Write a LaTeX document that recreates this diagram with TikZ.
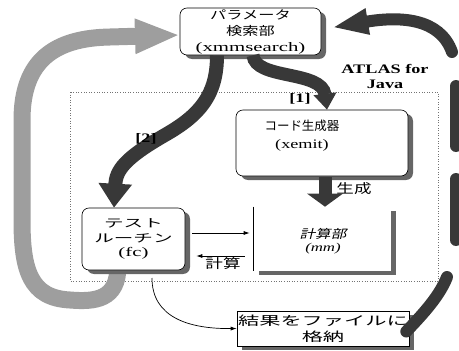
\documentclass[tikz,border=0pt]{standalone}
\usepackage{fontspec}
\setmainfont{Liberation Serif}
\newfontfamily\latw[FakeStretch=1.6]{Liberation Serif}
\newfontfamily\lat[FakeStretch=1.4]{Liberation Serif}
\newfontfamily\jp[FakeStretch=1.35]{Noto Sans CJK JP}
\newfontfamily\jpw[FakeStretch=1.7]{Noto Sans CJK JP}
\newfontfamily\jpn{Noto Sans CJK JP}
\newfontfamily\jpi[FakeStretch=1.3,FakeSlant=0.25]{Noto Sans CJK JP}
\usetikzlibrary{arrows.meta,shadows}
\definecolor{darkarrow}{gray}{0.22}
\definecolor{lightarrow}{gray}{0.62}
\definecolor{shadowgray}{gray}{0.40}
\begin{document}
\begin{tikzpicture}[x=1pt,y=-1pt,
  box/.style={draw=black, line width=0.6pt, fill=white, inner sep=0pt, align=center,
    drop shadow={shadow xshift=5pt, shadow yshift=-4pt, fill=shadowgray, opacity=1}},
  rbox/.style={box, rounded corners=7pt},
  txt/.style={inner sep=0pt, align=center},
  darkthick/.style={draw=darkarrow, line width=#1},
  thin/.style={draw=black, line width=0.7pt, -{Latex[length=6pt,width=4pt]}},
  frame/.style={draw=black!55, line width=0.6pt, dotted}
]
\useasboundingbox (0,0) rectangle (459,351);
\clip (0,0) rectangle (459,351);

% dotted frame
\draw[frame] (70,92) rectangle (438,281);

% light gray feedback arrow (drawn beneath the boxes)
\coordinate (gstart) at (118,266);
\draw[draw=lightarrow, line width=17pt, -{Triangle[length=45pt,width=32pt]}]
  (gstart) .. controls (118,300) and (95,302) .. (70,300)
  .. controls (30,298) and (22,270) .. (22,220) -- (22,120)
  .. controls (22,60) and (55,38) .. (110,37) -- (180,35);

% boxes
\node[rbox, minimum width=141pt, minimum height=47pt, font=\fontsize{12}{16}\selectfont] (search) at (250.5,31.5)
  {{\jp パラメータ}\\{\jp 検索部}\\{\latw\fontsize{13}{16}\selectfont (xmmsearch)}};
\node[rbox, minimum width=172pt, minimum height=66pt] (code) at (322,143) {};
\node[txt, font=\fontsize{12.5}{18}\selectfont] (codet) at (302,136)
  {{\jpn コード生成器}\\{\lat\fontsize{13}{18}\selectfont (xemit)}};
\node[box, draw=none, minimum width=137pt, minimum height=64pt] (mm) at (322.5,239) {};
\draw[line width=0.6pt] (mm.north west) -- (mm.south west);
\node[txt, font=\fontsize{12}{13.5}\selectfont] (mmt) at (323,241)
  {{\jpi 計算部}\\{\lat\itshape\fontsize{12}{13.5}\selectfont (mm)}};
\node[rbox, minimum width=103pt, minimum height=62pt, font=\fontsize{11.5}{14.5}\selectfont] (test) at (133.5,239)
  {{\jpw テスト}\\{\jpw ルーチン}\\{\latw\fontsize{13}{15}\selectfont (fc)}};
\node[box, minimum width=172pt, minimum height=35pt, font=\fontsize{12.5}{16}\selectfont] (store) at (323,328.5)
  {{\jpw 結果をファイルに}\\{\jpw 格納}};

% labels
\node[txt, font=\lat\bfseries\fontsize{13}{15}\selectfont] (atlas) at (385,76) {ATLAS for\\Java};

% [1] arrow
\draw[darkthick=13pt, -{Triangle[length=16pt,width=22pt]}]
  ([xshift=2.5pt]search.south) .. controls (255,80) and (322,70) .. ([xshift=5pt]code.north);
\node[txt, font=\lat\bfseries\fontsize{13}{15}\selectfont] (l1) at (300,99) {[1]};

% [2] arrow
\draw[darkthick=14pt, -{Triangle[length=24pt,width=32pt]}]
  ([xshift=-33.5pt]search.south) .. controls (217,95) and (200,115) .. (165,135)
  .. controls (125,158) and (116,170) .. ([xshift=-19.5pt]test.north);
\node[txt, font=\lat\bfseries\fontsize{13}{15}\selectfont] (l2) at (146,139) {[2]};

% generate arrow
\draw[darkthick=13pt, -{Triangle[length=13pt,width=35pt]}]
  ([xshift=3pt,yshift=-1pt]code.south) -- ([xshift=2.5pt]mm.north);
\node[txt, font=\jp\fontsize{13}{15}\selectfont] (gen) at (354,189) {生成};

% test <-> mm
\draw[thin, shorten <=7pt, shorten >=4pt] ([yshift=6pt]test.east) -- ([yshift=6pt]mm.west);
\draw[thin, shorten <=9pt, shorten >=11pt] ([yshift=-17pt]mm.west) -- ([yshift=-17pt]test.east);
\node[txt, font=\jp\fontsize{13}{15}\selectfont] (calc) at (223,264) {計算};

% test -> store
\coordinate (tstart) at (152,278);
\draw[thin] (tstart) .. controls (152,318) and (190,329) .. (store.west);

% right dark return arrow (broken)
\coordinate (r1) at (447,277);
\coordinate (r2a) at (456,86);
\coordinate (r2b) at (456,146);
\coordinate (r3a) at (456,179);
\coordinate (r3b) at (456,240);
\coordinate (r4) at (452,52);
\draw[darkthick=12pt, line cap=round] ([xshift=-3pt,yshift=-3pt]store.east) .. controls (425,312) and (440,295) .. (r1);
\draw[darkthick=12pt, line cap=round] (r2a) -- (r2b);
\draw[darkthick=12pt, line cap=round] (r3a) -- (r3b);
\draw[darkthick=12pt, line cap=round, -{Triangle[length=36pt,width=24pt]}]
  (r4) .. controls (440,18) and (400,16) .. ([xshift=11pt,yshift=4pt]search.east);
\end{tikzpicture}
\end{document}
